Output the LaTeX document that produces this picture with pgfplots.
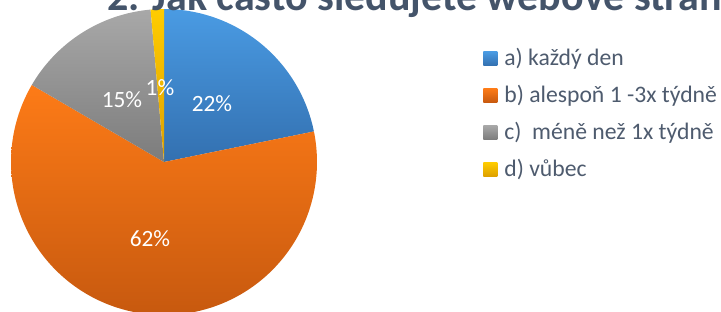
\documentclass[border=0pt]{standalone}
\usepackage{pgfplots}
\usepackage{pgfplotstable}
\pgfplotsset{compat=1.18}
\usepackage{fontspec}
\setmainfont{Carlito}
\definecolor{blueT}{HTML}{4A9BE3}
\definecolor{blueB}{HTML}{3370B0}
\definecolor{oranT}{HTML}{FD7B17}
\definecolor{oranB}{HTML}{C7590F}
\definecolor{greyT}{HTML}{A8A8A8}
\definecolor{greyB}{HTML}{7C7C7C}
\definecolor{yellT}{HTML}{FFCC00}
\definecolor{yellB}{HTML}{DDA000}
\definecolor{titlec}{HTML}{44546A}
\definecolor{legc}{HTML}{4E5B6E}
\pgfplotstableread{
label value
a 21.8
b 61.6
c 15.2
d 1.4
}\piedata
\pgfplotstablegetelem{0}{value}\of\piedata \let\va\pgfplotsretval
\pgfplotstablegetelem{1}{value}\of\piedata \let\vb\pgfplotsretval
\pgfplotstablegetelem{2}{value}\of\piedata \let\vc\pgfplotsretval
\pgfplotstablegetelem{3}{value}\of\piedata \let\vd\pgfplotsretval
\pgfmathsetmacro{\aA}{90}
\pgfmathsetmacro{\aB}{90-3.6*\va}
\pgfmathsetmacro{\aC}{90-3.6*(\va+\vb)}
\pgfmathsetmacro{\aD}{90-3.6*(\va+\vb+\vc)}
\pgfmathsetmacro{\aE}{90-3.6*(\va+\vb+\vc+\vd)}
\def\cx{164}
\def\cy{162}
\def\R{153}
\begin{document}
\begin{tikzpicture}
\begin{axis}[
  name=ax,
  x=0.75pt, y=0.75pt,
  xmin=0, xmax=721, ymin=0, ymax=311,
  y dir=reverse,
  hide axis, clip=true,
  legend cell align=left,
  legend image code/.code={\path[#1,draw=none] (0pt,-5.25pt) rectangle (10.5pt,5.25pt); \path (15.8pt,0pt);},
  legend style={at={(axis cs:483,46.3)}, anchor=north west, draw=none, fill=none,
    inner sep=0pt, row sep=9.7pt, font=\fontsize{17.75}{21}\selectfont, text=legc,
    nodes={inner sep=0pt, text height=14pt, text depth=4pt}},
]
\addplot[draw=none, top color=blueT, bottom color=blueB, domain=\aB:\aA, samples=80, variable=\t]
  ({\cx+\R*cos(\t)},{\cy-\R*sin(\t)}) -- (axis cs:\cx,\cy) -- cycle;
\addlegendentry{a) každý den}
\addplot[draw=none, top color=oranT, bottom color=oranB, domain=\aC:\aB, samples=150, variable=\t]
  ({\cx+\R*cos(\t)},{\cy-\R*sin(\t)}) -- (axis cs:\cx,\cy) -- cycle;
\addlegendentry{b) alespoň 1 -3x týdně}
\addplot[draw=none, top color=greyT, bottom color=greyB, domain=\aD:\aC, samples=60, variable=\t]
  ({\cx+\R*cos(\t)},{\cy-\R*sin(\t)}) -- (axis cs:\cx,\cy) -- cycle;
\addlegendentry{c)\ \ méně než 1x týdně}
\addplot[draw=none, top color=yellT, bottom color=yellB, domain=\aE:\aD, samples=10, variable=\t]
  ({\cx+\R*cos(\t)},{\cy-\R*sin(\t)}) -- (axis cs:\cx,\cy) -- cycle;
\addlegendentry{d) vůbec}
\node[text=white, font=\fontsize{17.5}{20}\selectfont] at (axis cs:212,104) {22\%};
\node[text=white, font=\fontsize{17.5}{20}\selectfont] at (axis cs:150,239) {62\%};
\node[text=white, font=\fontsize{17.5}{20}\selectfont] at (axis cs:122,100) {15\%};
\node[text=white, font=\fontsize{17.5}{20}\selectfont] at (axis cs:160,88) {1\%};
\node[text=titlec, font=\fontsize{31.5}{36}\selectfont\bfseries, anchor=base west, inner sep=0pt] at (axis cs:107,10) {2. Jak často sledujete webové stránky?};
\end{axis}
\pgfresetboundingbox
\path[use as bounding box] (ax.south west) rectangle (ax.north east);
\end{tikzpicture}
\end{document}
